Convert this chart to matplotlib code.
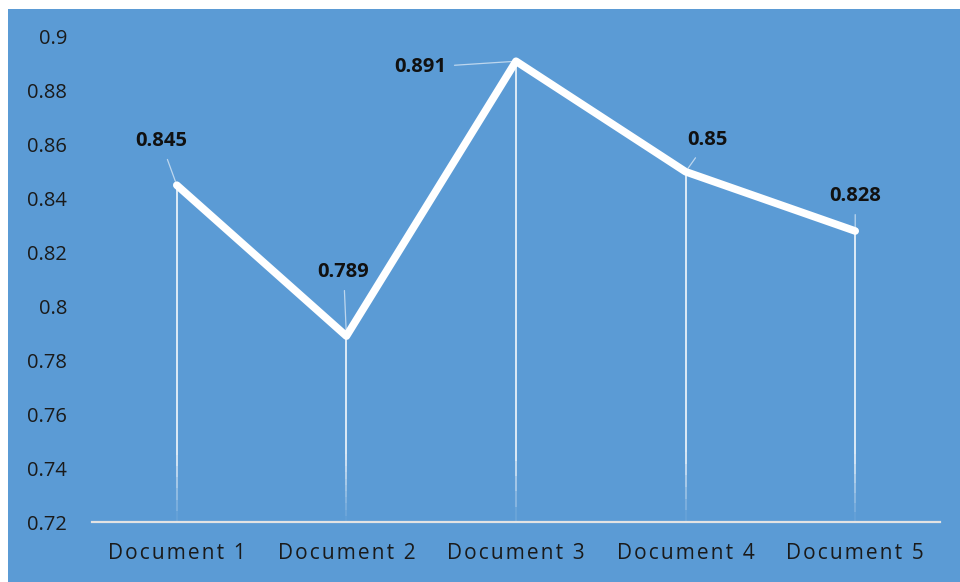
import numpy as np
import matplotlib.pyplot as plt
from matplotlib.patches import Rectangle

# scores per document
documents = ["Document 1", "Document 2", "Document 3", "Document 4", "Document 5"]
scores = [0.845, 0.789, 0.891, 0.85, 0.828]
y_ticks = [0.72, 0.74, 0.76, 0.78, 0.8, 0.82, 0.84, 0.86, 0.88, 0.9]
y_tick_labels = ["0.72", "0.74", "0.76", "0.78", "0.8", "0.82", "0.84", "0.86", "0.88", "0.9"]

# label offsets in points (dx, dy) relative to each point
label_offsets = [(-11.5, 31.5), (-2, 46), (-69, -4.5), (16, 22.5), (0, 25)]

blue = "#5B9BD5"
plt.rcParams['font.family'] = ['Open Sans', 'DejaVu Sans']


def spaced(s):
    # widen letter spacing with hair spaces
    return "\u200a".join(s)


fig = plt.figure(figsize=(9.6, 5.82), dpi=100)
fig.patch.set_facecolor("white")
fig.patches.append(Rectangle((8 / 960, 0), 1, 1 - 9 / 582, transform=fig.transFigure,
                             facecolor=blue, edgecolor="none", zorder=-10))

ax = fig.add_axes([92 / 960, 1 - 522 / 582, (940 - 92) / 960, (522 - 37) / 582])
ax.set_facecolor("none")

x = np.arange(len(documents))
ymin = y_ticks[0]

# drop lines, fading out toward the axis
n_seg = 30
for xi, yi in zip(x, scores):
    edges = np.linspace(ymin, yi, n_seg + 1)
    fade_top = ymin + 0.025
    for a, b in zip(edges[:-1], edges[1:]):
        mid = (a + b) / 2
        alpha = 0.85 if mid > fade_top else 0.85 * (mid - ymin) / (fade_top - ymin)
        ax.plot([xi, xi], [a, b], color="white", lw=1.3, alpha=alpha,
                solid_capstyle="butt", zorder=2)

ax.plot(x, scores, color="white", lw=5.5, solid_joinstyle="round",
        solid_capstyle="round", zorder=3)

for xi, yi, (dx, dy) in zip(x, scores, label_offsets):
    ax.annotate(f"{yi:g}", xy=(xi, yi), xytext=(dx, dy), textcoords="offset points",
                ha="center", va="center", fontsize=14.5, fontweight="bold",
                color="#111111", zorder=4,
                arrowprops=dict(arrowstyle="-", color="white", alpha=0.6, lw=0.9,
                                shrinkA=4, shrinkB=3))

ax.set_xlim(-0.5, len(documents) - 0.5)
ax.set_ylim(y_ticks[0], y_ticks[-1])
ax.set_xticks(x)
ax.set_xticklabels([spaced(d) for d in documents], fontsize=15, color="#1a1a1a")
ax.set_yticks(y_ticks)
ax.set_yticklabels(y_tick_labels, fontsize=14.5, color="#1a1a1a")
ax.tick_params(axis="both", length=0)
ax.tick_params(axis="y", pad=18)
ax.tick_params(axis="x", pad=15)

for side in ["top", "right", "left"]:
    ax.spines[side].set_visible(False)
ax.spines["bottom"].set_color("#E3E3E3")
ax.spines["bottom"].set_linewidth(1.6)
ax.spines["bottom"].set_zorder(5)

fig.savefig("out.png", dpi=100, facecolor=fig.get_facecolor())
